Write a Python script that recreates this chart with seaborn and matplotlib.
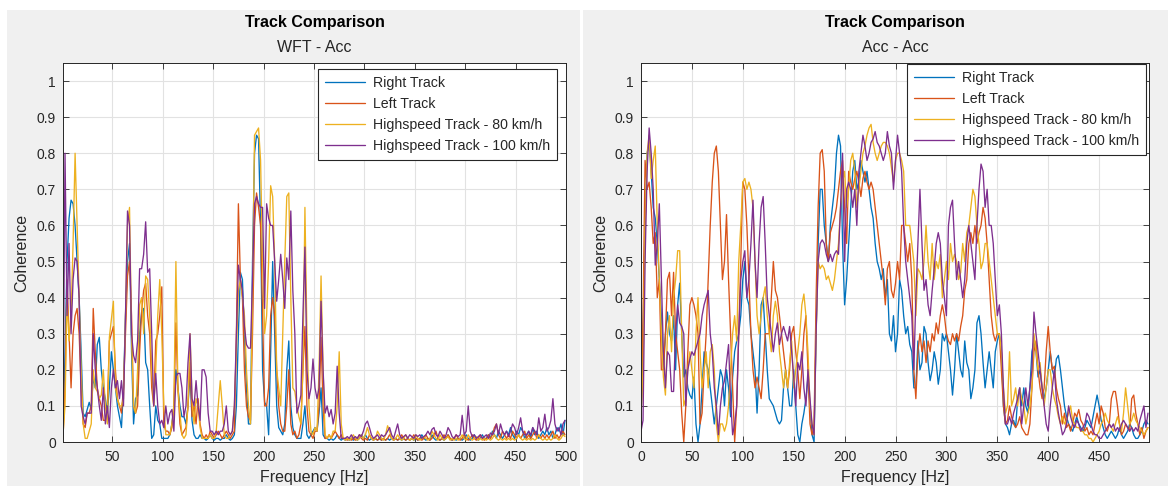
import numpy as np
import pandas as pd
import matplotlib
matplotlib.use("Agg")
import matplotlib.pyplot as plt
from matplotlib.patches import Rectangle
import seaborn as sns

sns.set_theme(style="whitegrid")
plt.rcParams["font.family"] = ["Liberation Sans", "DejaVu Sans"]

# ---------------------------------------------------------------- data
track_names = ["Right Track", "Left Track",
               "Highspeed Track - 80 km/h", "Highspeed Track - 100 km/h"]
track_colors = ["#0072BD", "#D95319", "#EDB120", "#7E2F8E"]

panel_titles = ["Track Comparison", "Track Comparison"]
panel_subtitles = ["WFT - Acc", "Acc - Acc"]

# frequency bins [Hz]
freq_wft = np.arange(1, 500, 2)
freq_acc = np.arange(0, 500, 2)

# ---- WFT - Acc coherence
wft_right = [
    0.02, 0.25, 0.5, 0.62, 0.67, 0.66, 0.6, 0.5, 0.4, 0.25,
    0.08, 0.07, 0.09, 0.11, 0.09, 0.18, 0.15, 0.27, 0.29, 0.2,
    0.15, 0.12, 0.08, 0.15, 0.25, 0.2, 0.15, 0.1, 0.07, 0.04,
    0.15, 0.35, 0.5, 0.55, 0.25, 0.05, 0.12, 0.13, 0.3, 0.36,
    0.37, 0.22, 0.2, 0.1, 0.01, 0.02, 0.1, 0.06, 0.05, 0.01,
    0.01, 0.01, 0.01, 0.02, 0.05, 0.1, 0.2, 0.15, 0.1, 0.07,
    0.07, 0.05, 0.1, 0.19, 0.06, 0.02, 0.01, 0.01, 0.02, 0.01,
    0.01, 0.005, 0.01, 0.02, 0.01, 0.005, 0.01, 0.01, 0.005, 0.01,
    0.01, 0.02, 0.01, 0.005, 0.01, 0.02, 0.1, 0.3, 0.47, 0.45,
    0.3, 0.15, 0.05, 0.05, 0.5, 0.8, 0.85, 0.84, 0.6, 0.2,
    0.11, 0.1, 0.02, 0.25, 0.5, 0.3, 0.1, 0.04, 0.03, 0.02,
    0.05, 0.2, 0.28, 0.1, 0.04, 0.02, 0.01, 0.01, 0.01, 0.05,
    0.1, 0.02, 0.01, 0.02, 0.03, 0.04, 0.03, 0.08, 0.15, 0.02,
    0.01, 0.01, 0.005, 0.01, 0.005, 0.01, 0.02, 0.01, 0.005, 0.01,
    0.005, 0.01, 0.005, 0.01, 0.005, 0.01, 0.005, 0.01, 0.02, 0.01,
    0.02, 0.01, 0.005, 0.01, 0.005, 0.01, 0.005, 0.01, 0.005, 0.01,
    0.005, 0.01, 0.005, 0.01, 0.005, 0.01, 0.005, 0.01, 0.005, 0.01,
    0.005, 0.01, 0.005, 0.01, 0.005, 0.01, 0.005, 0.01, 0.02, 0.01,
    0.005, 0.01, 0.005, 0.02, 0.01, 0.005, 0.01, 0.005, 0.01, 0.005,
    0.01, 0.02, 0.01, 0.005, 0.01, 0.005, 0.01, 0.01, 0.005, 0.01,
    0.02, 0.01, 0.005, 0.01, 0.02, 0.01, 0.005, 0.01, 0.02, 0.01,
    0.01, 0.02, 0.01, 0.03, 0.02, 0.01, 0.03, 0.02, 0.01, 0.02,
    0.03, 0.02, 0.04, 0.02, 0.01, 0.03, 0.02, 0.04, 0.03, 0.01,
    0.02, 0.03, 0.01, 0.04, 0.02, 0.03, 0.01, 0.02, 0.03, 0.02,
    0.04, 0.02, 0.03, 0.01, 0.02, 0.04, 0.03, 0.05, 0.02, 0.06,
]
wft_left = [
    0.01, 0.15, 0.45, 0.3, 0.15, 0.3, 0.35, 0.37, 0.3, 0.15,
    0.05, 0.04, 0.08, 0.08, 0.1, 0.37, 0.25, 0.15, 0.12, 0.1,
    0.06, 0.06, 0.1, 0.28, 0.3, 0.32, 0.2, 0.12, 0.1, 0.08,
    0.15, 0.3, 0.46, 0.5, 0.35, 0.1, 0.08, 0.1, 0.25, 0.36,
    0.42, 0.44, 0.35, 0.3, 0.15, 0.1, 0.28, 0.3, 0.35, 0.43,
    0.05, 0.03, 0.03, 0.02, 0.04, 0.1, 0.33, 0.15, 0.05, 0.02,
    0.03, 0.04, 0.1, 0.22, 0.07, 0.1, 0.05, 0.12, 0.05, 0.02,
    0.01, 0.02, 0.01, 0.03, 0.02, 0.01, 0.02, 0.03, 0.02, 0.01,
    0.02, 0.03, 0.02, 0.01, 0.02, 0.03, 0.3, 0.66, 0.45, 0.4,
    0.2, 0.1, 0.07, 0.06, 0.3, 0.6, 0.69, 0.65, 0.6, 0.35,
    0.1, 0.1, 0.15, 0.35, 0.4, 0.35, 0.2, 0.1, 0.05, 0.03,
    0.03, 0.1, 0.2, 0.05, 0.02, 0.03, 0.01, 0.02, 0.05, 0.2,
    0.32, 0.1, 0.03, 0.02, 0.01, 0.03, 0.03, 0.1, 0.29, 0.1,
    0.01, 0.01, 0.02, 0.01, 0.02, 0.03, 0.02, 0.01, 0.02, 0.01,
    0.01, 0.005, 0.01, 0.005, 0.01, 0.005, 0.01, 0.02, 0.01, 0.005,
    0.01, 0.005, 0.02, 0.01, 0.005, 0.01, 0.005, 0.01, 0.005, 0.01,
    0.005, 0.01, 0.02, 0.01, 0.005, 0.01, 0.005, 0.01, 0.02, 0.01,
    0.005, 0.01, 0.005, 0.01, 0.02, 0.01, 0.005, 0.01, 0.005, 0.01,
    0.02, 0.01, 0.005, 0.01, 0.02, 0.03, 0.01, 0.005, 0.01, 0.02,
    0.01, 0.02, 0.01, 0.005, 0.01, 0.02, 0.01, 0.005, 0.01, 0.02,
    0.01, 0.005, 0.01, 0.02, 0.01, 0.005, 0.01, 0.02, 0.01, 0.005,
    0.01, 0.02, 0.01, 0.02, 0.04, 0.05, 0.02, 0.01, 0.03, 0.02,
    0.01, 0.02, 0.01, 0.03, 0.02, 0.01, 0.02, 0.01, 0.02, 0.03,
    0.01, 0.02, 0.01, 0.02, 0.03, 0.01, 0.02, 0.01, 0.02, 0.01,
    0.02, 0.01, 0.02, 0.03, 0.01, 0.02, 0.01, 0.02, 0.03, 0.02,
]
wft_hs80 = [
    0.02, 0.1, 0.4, 0.28, 0.35, 0.55, 0.8, 0.6, 0.4, 0.2,
    0.05, 0.01, 0.01, 0.03, 0.05, 0.2, 0.15, 0.14, 0.12, 0.13,
    0.2, 0.1, 0.05, 0.29, 0.34, 0.39, 0.15, 0.12, 0.1, 0.1,
    0.12, 0.35, 0.6, 0.65, 0.3, 0.1, 0.08, 0.2, 0.38, 0.4,
    0.3, 0.46, 0.45, 0.35, 0.2, 0.1, 0.2, 0.35, 0.45, 0.3,
    0.1, 0.02, 0.02, 0.02, 0.05, 0.1, 0.5, 0.15, 0.08, 0.02,
    0.01, 0.02, 0.1, 0.3, 0.12, 0.05, 0.12, 0.1, 0.04, 0.01,
    0.01, 0.01, 0.01, 0.02, 0.01, 0.01, 0.03, 0.1, 0.17, 0.1,
    0.02, 0.01, 0.01, 0.02, 0.03, 0.1, 0.25, 0.42, 0.45, 0.4,
    0.35, 0.2, 0.1, 0.05, 0.4, 0.85, 0.86, 0.87, 0.78, 0.5,
    0.3, 0.35, 0.5, 0.71, 0.68, 0.5, 0.2, 0.15, 0.1, 0.3,
    0.5, 0.68, 0.69, 0.4, 0.15, 0.14, 0.1, 0.07, 0.05, 0.2,
    0.65, 0.3, 0.1, 0.03, 0.02, 0.04, 0.03, 0.2, 0.46, 0.2,
    0.02, 0.01, 0.02, 0.01, 0.03, 0.03, 0.1, 0.25, 0.05, 0.01,
    0.005, 0.01, 0.005, 0.01, 0.02, 0.01, 0.005, 0.01, 0.02, 0.01,
    0.02, 0.04, 0.02, 0.01, 0.005, 0.01, 0.03, 0.02, 0.01, 0.005,
    0.02, 0.045, 0.03, 0.01, 0.005, 0.01, 0.02, 0.01, 0.005, 0.01,
    0.02, 0.01, 0.005, 0.01, 0.005, 0.02, 0.01, 0.005, 0.01, 0.015,
    0.01, 0.005, 0.01, 0.03, 0.02, 0.01, 0.005, 0.02, 0.01, 0.005,
    0.01, 0.015, 0.005, 0.01, 0.005, 0.01, 0.005, 0.01, 0.02, 0.01,
    0.005, 0.02, 0.01, 0.005, 0.01, 0.015, 0.005, 0.01, 0.005, 0.01,
    0.005, 0.01, 0.005, 0.01, 0.02, 0.01, 0.005, 0.01, 0.005, 0.01,
    0.005, 0.01, 0.005, 0.01, 0.005, 0.01, 0.02, 0.01, 0.005, 0.01,
    0.005, 0.01, 0.005, 0.01, 0.005, 0.01, 0.02, 0.01, 0.005, 0.01,
    0.005, 0.01, 0.005, 0.01, 0.02, 0.01, 0.005, 0.01, 0.02, 0.015,
]
wft_hs100 = [
    0.02, 0.8, 0.35, 0.55, 0.3, 0.45, 0.51, 0.5, 0.4, 0.1,
    0.07, 0.05, 0.08, 0.08, 0.08, 0.3, 0.2, 0.15, 0.1, 0.06,
    0.15, 0.05, 0.1, 0.04, 0.15, 0.2, 0.15, 0.17, 0.12, 0.17,
    0.1, 0.35, 0.64, 0.6, 0.3, 0.24, 0.22, 0.28, 0.48, 0.48,
    0.52, 0.61, 0.47, 0.48, 0.3, 0.1, 0.19, 0.1, 0.05, 0.06,
    0.04, 0.1, 0.05, 0.08, 0.09, 0.03, 0.18, 0.19, 0.19, 0.15,
    0.07, 0.1, 0.22, 0.3, 0.12, 0.1, 0.17, 0.1, 0.06, 0.2,
    0.2, 0.18, 0.08, 0.03, 0.03, 0.02, 0.03, 0.02, 0.03, 0.03,
    0.05, 0.1, 0.03, 0.02, 0.03, 0.1, 0.3, 0.49, 0.45, 0.42,
    0.32, 0.27, 0.26, 0.26, 0.45, 0.66, 0.68, 0.66, 0.65, 0.65,
    0.37, 0.66, 0.62, 0.6, 0.6, 0.5, 0.39, 0.45, 0.52, 0.45,
    0.37, 0.51, 0.45, 0.64, 0.42, 0.3, 0.08, 0.1, 0.13, 0.35,
    0.54, 0.2, 0.12, 0.15, 0.23, 0.15, 0.12, 0.15, 0.39, 0.2,
    0.08, 0.1, 0.07, 0.09, 0.05, 0.08, 0.21, 0.08, 0.01, 0.01,
    0.01, 0.015, 0.01, 0.02, 0.01, 0.015, 0.01, 0.02, 0.015, 0.03,
    0.05, 0.058, 0.04, 0.02, 0.01, 0.015, 0.02, 0.01, 0.02, 0.015,
    0.02, 0.03, 0.04, 0.02, 0.01, 0.03, 0.05, 0.02, 0.01, 0.015,
    0.02, 0.01, 0.02, 0.015, 0.01, 0.02, 0.015, 0.02, 0.01, 0.015,
    0.02, 0.03, 0.02, 0.035, 0.04, 0.02, 0.015, 0.03, 0.02, 0.01,
    0.02, 0.04, 0.03, 0.015, 0.01, 0.02, 0.015, 0.02, 0.074, 0.02,
    0.03, 0.1, 0.03, 0.015, 0.02, 0.01, 0.015, 0.02, 0.01, 0.015,
    0.02, 0.01, 0.025, 0.02, 0.03, 0.05, 0.02, 0.05, 0.03, 0.02,
    0.03, 0.015, 0.03, 0.05, 0.04, 0.02, 0.04, 0.067, 0.03, 0.02,
    0.02, 0.03, 0.02, 0.04, 0.03, 0.02, 0.067, 0.03, 0.04, 0.077,
    0.03, 0.04, 0.06, 0.12, 0.05, 0.03, 0.04, 0.02, 0.05, 0.06,
]

# ---- Acc - Acc coherence
acc_right = [
    0.05, 0.3, 0.6, 0.8, 0.83, 0.75, 0.65, 0.62, 0.55, 0.45,
    0.35, 0.2, 0.3, 0.36, 0.3, 0.28, 0.35, 0.2, 0.38, 0.44,
    0.3, 0.18, 0.2, 0.15, 0.13, 0.12, 0.18, 0.05, 0.0, 0.05,
    0.15, 0.25, 0.22, 0.2, 0.15, 0.1, 0.05, 0.1, 0.15, 0.2,
    0.18, 0.1, 0.2, 0.15, 0.07, 0.18, 0.25, 0.28, 0.3, 0.35,
    0.45, 0.5, 0.4, 0.38, 0.3, 0.25, 0.2, 0.08, 0.2, 0.38,
    0.4, 0.3, 0.2, 0.12, 0.11, 0.1, 0.08, 0.06, 0.05, 0.06,
    0.15, 0.2, 0.15, 0.1, 0.1, 0.2, 0.1, 0.02, 0.0, 0.05,
    0.08, 0.12, 0.18, 0.1, 0.02, 0.0, 0.3, 0.55, 0.7, 0.7,
    0.6, 0.55, 0.5, 0.6, 0.65, 0.7, 0.8, 0.85, 0.82, 0.55,
    0.38, 0.45, 0.55, 0.65, 0.75, 0.78, 0.7, 0.72, 0.78, 0.75,
    0.72, 0.75, 0.7, 0.65, 0.62, 0.55, 0.5, 0.48, 0.45, 0.48,
    0.4, 0.45, 0.3, 0.28, 0.35, 0.25, 0.3, 0.45, 0.42, 0.35,
    0.3, 0.32, 0.27, 0.25, 0.15, 0.15, 0.28, 0.2, 0.22, 0.32,
    0.3, 0.22, 0.17, 0.2, 0.25, 0.22, 0.16, 0.2, 0.3, 0.28,
    0.3, 0.25, 0.2, 0.13, 0.2, 0.3, 0.25, 0.2, 0.18, 0.28,
    0.22, 0.2, 0.12, 0.15, 0.2, 0.33, 0.35, 0.3, 0.22, 0.15,
    0.2, 0.25, 0.2, 0.15, 0.25, 0.28, 0.3, 0.25, 0.1, 0.05,
    0.04, 0.02, 0.05, 0.06, 0.04, 0.12, 0.15, 0.1, 0.15, 0.1,
    0.08, 0.15, 0.25, 0.28, 0.25, 0.18, 0.2, 0.15, 0.12, 0.15,
    0.2, 0.25, 0.2, 0.18, 0.23, 0.24, 0.2, 0.15, 0.1, 0.07,
    0.05, 0.04, 0.03, 0.05, 0.07, 0.05, 0.04, 0.03, 0.04, 0.06,
    0.05, 0.04, 0.07, 0.1, 0.13, 0.1, 0.06, 0.04, 0.02, 0.01,
    0.02, 0.03, 0.02, 0.01, 0.02, 0.04, 0.02, 0.01, 0.02, 0.03,
    0.05, 0.04, 0.02, 0.01, 0.01, 0.02, 0.03, 0.05, 0.06, 0.05,
]
acc_left = [
    0.04, 0.35, 0.78, 0.7, 0.72, 0.65, 0.55, 0.58, 0.4, 0.45,
    0.2, 0.2, 0.3, 0.45, 0.47, 0.35, 0.47, 0.3, 0.25, 0.2,
    0.08, 0.0, 0.1, 0.25, 0.38, 0.4, 0.38, 0.35, 0.3, 0.05,
    0.08, 0.2, 0.3, 0.45, 0.6, 0.72, 0.8, 0.82, 0.75, 0.6,
    0.45, 0.5, 0.63, 0.45, 0.3, 0.15, 0.0, 0.1, 0.3, 0.5,
    0.72, 0.7, 0.6, 0.45, 0.3, 0.2, 0.15, 0.18, 0.15, 0.12,
    0.2, 0.3, 0.3, 0.3, 0.4, 0.5, 0.42, 0.4, 0.35, 0.3,
    0.25, 0.2, 0.15, 0.2, 0.3, 0.32, 0.25, 0.2, 0.12, 0.2,
    0.3, 0.35, 0.2, 0.05, 0.02, 0.05, 0.4, 0.65, 0.8, 0.81,
    0.75, 0.55, 0.5, 0.58, 0.6, 0.62, 0.65, 0.7, 0.75, 0.78,
    0.65, 0.55, 0.75, 0.72, 0.7, 0.73, 0.75, 0.72, 0.68, 0.73,
    0.75, 0.72, 0.7, 0.72, 0.7, 0.65, 0.6, 0.55, 0.5, 0.45,
    0.38, 0.48, 0.5, 0.42, 0.4, 0.44, 0.5, 0.45, 0.6, 0.6,
    0.55, 0.5, 0.55, 0.45, 0.2, 0.12, 0.25, 0.3, 0.25, 0.28,
    0.22, 0.28, 0.25, 0.3, 0.28, 0.33, 0.3, 0.35, 0.38, 0.35,
    0.3, 0.28, 0.27, 0.3, 0.28, 0.3, 0.28, 0.32, 0.35, 0.42,
    0.45, 0.55, 0.58, 0.55, 0.6, 0.55, 0.58, 0.6, 0.65, 0.62,
    0.55, 0.45, 0.35, 0.3, 0.28, 0.3, 0.3, 0.2, 0.1, 0.05,
    0.06, 0.1, 0.07, 0.05, 0.04, 0.05, 0.07, 0.04, 0.03, 0.02,
    0.02, 0.05, 0.15, 0.25, 0.28, 0.2, 0.15, 0.12, 0.15, 0.25,
    0.32, 0.25, 0.2, 0.21, 0.15, 0.12, 0.1, 0.05, 0.08, 0.04,
    0.05, 0.03, 0.05, 0.08, 0.07, 0.09, 0.06, 0.05, 0.03, 0.04,
    0.02, 0.03, 0.02, 0.05, 0.08, 0.05, 0.1, 0.08, 0.04, 0.03,
    0.05, 0.12, 0.14, 0.14, 0.1, 0.05, 0.02, 0.03, 0.05, 0.04,
    0.03, 0.12, 0.13, 0.08, 0.05, 0.02, 0.04, 0.01, 0.03, 0.04,
]
acc_hs80 = [
    0.07, 0.2, 0.6, 0.8, 0.85, 0.73, 0.78, 0.82, 0.6, 0.45,
    0.3, 0.18, 0.13, 0.3, 0.35, 0.25, 0.4, 0.45, 0.53, 0.53,
    0.3, 0.1, 0.12, 0.2, 0.25, 0.2, 0.15, 0.3, 0.4, 0.25,
    0.15, 0.2, 0.25, 0.15, 0.25, 0.27, 0.2, 0.05, 0.0, 0.05,
    0.05, 0.03, 0.05, 0.1, 0.2, 0.3, 0.35, 0.28, 0.5, 0.6,
    0.72, 0.73, 0.7, 0.72, 0.7, 0.65, 0.5, 0.35, 0.3, 0.35,
    0.4, 0.43, 0.35, 0.3, 0.25, 0.35, 0.39, 0.35, 0.25, 0.2,
    0.15, 0.2, 0.15, 0.22, 0.28, 0.15, 0.2, 0.25, 0.3, 0.38,
    0.41, 0.35, 0.25, 0.1, 0.05, 0.02, 0.3, 0.5, 0.48, 0.49,
    0.48, 0.45, 0.46, 0.44, 0.42, 0.45, 0.5, 0.55, 0.65, 0.72,
    0.75, 0.65, 0.7, 0.78, 0.8, 0.75, 0.65, 0.7, 0.75, 0.8,
    0.82, 0.85, 0.87, 0.88, 0.83, 0.8, 0.78, 0.8, 0.82, 0.83,
    0.83, 0.82, 0.8, 0.76, 0.72, 0.78, 0.8, 0.8, 0.78, 0.75,
    0.6, 0.6, 0.6, 0.55, 0.5, 0.35, 0.48, 0.47, 0.45, 0.5,
    0.6, 0.5, 0.45, 0.55, 0.45, 0.5, 0.48, 0.52, 0.4, 0.45,
    0.5, 0.45, 0.55, 0.5, 0.52, 0.5, 0.45, 0.47, 0.55, 0.5,
    0.58, 0.6, 0.65, 0.7, 0.68, 0.6, 0.55, 0.48, 0.5, 0.55,
    0.55, 0.5, 0.45, 0.4, 0.35, 0.3, 0.3, 0.25, 0.15, 0.08,
    0.1, 0.25, 0.1, 0.12, 0.15, 0.1, 0.15, 0.12, 0.1, 0.05,
    0.08, 0.1, 0.15, 0.3, 0.25, 0.2, 0.22, 0.15, 0.1, 0.15,
    0.2, 0.2, 0.15, 0.12, 0.1, 0.07, 0.05, 0.07, 0.05, 0.06,
    0.08, 0.1, 0.06, 0.05, 0.04, 0.04, 0.03, 0.03, 0.02, 0.02,
    0.01, 0.01, 0.0, 0.01, 0.02, 0.03, 0.05, 0.06, 0.08, 0.06,
    0.05, 0.04, 0.03, 0.05, 0.07, 0.05, 0.03, 0.08, 0.15, 0.1,
    0.05, 0.06, 0.08, 0.06, 0.05, 0.04, 0.03, 0.02, 0.03, 0.04,
]
acc_hs100 = [
    0.03, 0.06, 0.5, 0.75, 0.87, 0.8, 0.7, 0.49, 0.55, 0.66,
    0.45, 0.25, 0.15, 0.25, 0.24, 0.14, 0.14, 0.3, 0.38, 0.33,
    0.32, 0.3, 0.1, 0.2, 0.23, 0.25, 0.24, 0.26, 0.28, 0.3,
    0.35, 0.38, 0.4, 0.42, 0.3, 0.25, 0.15, 0.1, 0.02, 0.1,
    0.15, 0.17, 0.22, 0.27, 0.12, 0.02, 0.05, 0.1, 0.3, 0.45,
    0.5, 0.53, 0.4, 0.45, 0.55, 0.67, 0.5, 0.4, 0.55, 0.65,
    0.68, 0.55, 0.4, 0.35, 0.3, 0.25, 0.3, 0.33, 0.27, 0.3,
    0.32, 0.3, 0.28, 0.32, 0.25, 0.18, 0.1, 0.22, 0.2, 0.25,
    0.15, 0.1, 0.2, 0.12, 0.05, 0.02, 0.3, 0.5, 0.55, 0.56,
    0.55, 0.52, 0.5, 0.52, 0.5, 0.52, 0.53, 0.52, 0.65, 0.8,
    0.5, 0.7, 0.72, 0.7, 0.65, 0.7, 0.6, 0.75, 0.8, 0.85,
    0.82, 0.78, 0.8, 0.83, 0.84, 0.86, 0.83, 0.82, 0.8, 0.78,
    0.8, 0.86, 0.82, 0.8, 0.7, 0.78, 0.85, 0.8, 0.75, 0.6,
    0.5, 0.45, 0.4, 0.35, 0.2, 0.4, 0.55, 0.7, 0.55, 0.42,
    0.45, 0.38, 0.35, 0.42, 0.48, 0.55, 0.58, 0.55, 0.45, 0.4,
    0.35, 0.6, 0.65, 0.67, 0.55, 0.45, 0.5, 0.45, 0.4, 0.45,
    0.55, 0.6, 0.55, 0.5, 0.45, 0.6, 0.7, 0.77, 0.75, 0.65,
    0.7, 0.6, 0.6, 0.55, 0.45, 0.35, 0.38, 0.3, 0.15, 0.05,
    0.05, 0.07, 0.05, 0.08, 0.1, 0.12, 0.15, 0.05, 0.1, 0.15,
    0.1, 0.15, 0.2, 0.36, 0.3, 0.25, 0.2, 0.15, 0.1, 0.05,
    0.03, 0.1, 0.15, 0.2, 0.12, 0.08, 0.05, 0.02, 0.03, 0.05,
    0.1, 0.07, 0.05, 0.04, 0.06, 0.05, 0.03, 0.04, 0.05, 0.08,
    0.07, 0.05, 0.03, 0.02, 0.02, 0.01, 0.01, 0.02, 0.03, 0.04,
    0.05, 0.04, 0.05, 0.03, 0.04, 0.03, 0.05, 0.06, 0.05, 0.04,
    0.03, 0.04, 0.03, 0.04, 0.03, 0.06, 0.08, 0.1, 0.04, 0.08,
]

wft_ticks = [50, 100, 150, 200, 250, 300, 350, 400, 450, 500]
acc_ticks = [0, 50, 100, 150, 200, 250, 300, 350, 400, 450]
coh_ticks = [0, 0.1, 0.2, 0.3, 0.4, 0.5, 0.6, 0.7, 0.8, 0.9, 1]
coh_tick_labels = ["0", "0.1", "0.2", "0.3", "0.4", "0.5", "0.6",
                   "0.7", "0.8", "0.9", "1"]


def long_frame(freq, series):
    parts = [pd.DataFrame({"Frequency": freq, "Coherence": vals, "Track": name})
             for name, vals in zip(track_names, series)]
    return pd.concat(parts, ignore_index=True)


wft_df = long_frame(freq_wft, [wft_right, wft_left, wft_hs80, wft_hs100])
acc_df = long_frame(freq_acc, [acc_right, acc_left, acc_hs80, acc_hs100])

# ---------------------------------------------------------------- figure
W, H = 1168, 486
fig = plt.figure(figsize=(W / 100, H / 100), dpi=100)
fig.patch.set_facecolor("white")
panel_bg = "#f0f0f0"
fig.patches.append(Rectangle((7 / W, 0), (580 - 7) / W, 1 - 10 / H,
                             transform=fig.transFigure, facecolor=panel_bg,
                             edgecolor="none", zorder=-10))
fig.patches.append(Rectangle((583 / W, 0), (W - 583) / W, 1 - 10 / H,
                             transform=fig.transFigure, facecolor=panel_bg,
                             edgecolor="none", zorder=-10))


def px_axes(x0, x1, y_top, y_bot):
    return [x0 / W, 1 - y_bot / H, (x1 - x0) / W, (y_bot - y_top) / H]


panels = [
    dict(df=wft_df, rect=px_axes(63, 566, 63, 442), xlim=(1, 500),
         xticks=wft_ticks, legend_anchor=((557 - 63) / 503, (442 - 69) / 379)),
    dict(df=acc_df, rect=px_axes(641, 1149, 63, 442), xlim=(0, 499),
         xticks=acc_ticks, legend_anchor=((1146 - 641) / 508, (442 - 64) / 379)),
]

text_col = "#262626"
for i, p in enumerate(panels):
    ax = fig.add_axes(p["rect"])
    sns.lineplot(data=p["df"], x="Frequency", y="Coherence", hue="Track",
                 hue_order=track_names, palette=track_colors, estimator=None,
                 linewidth=0.95, ax=ax)
    ax.set_facecolor("white")
    ax.set_xlim(*p["xlim"])
    ax.set_ylim(0, 1.05)
    ax.set_xticks(p["xticks"])
    ax.set_xticklabels([str(t) for t in p["xticks"]])
    ax.set_yticks(coh_ticks)
    ax.set_yticklabels(coh_tick_labels)
    ax.grid(True, color="#e2e2e2", linewidth=0.8)
    for s in ax.spines.values():
        s.set_visible(True)
        s.set_color(text_col)
        s.set_linewidth(0.7)
    ax.tick_params(axis="both", which="major", direction="in", length=4,
                   width=0.6, color=text_col, labelcolor=text_col,
                   labelsize=10, bottom=True, left=True, top=True, right=True)
    ax.tick_params(axis="x", pad=6)
    ax.tick_params(axis="y", pad=5)

    ax.set_xlabel("Frequency [Hz]", fontsize=11.5, color=text_col)
    ax.set_ylabel("Coherence", fontsize=11.5, color=text_col)
    ax.xaxis.set_label_coords(0.5, -(470 - 442) / 379)
    ax.yaxis.set_label_coords(-(63 - 29) / 503 if i == 0 else -(641 - 608) / 508, 0.5)

    handles, labels = ax.get_legend_handles_labels()
    leg = ax.legend(handles, labels, loc="upper right",
                    bbox_to_anchor=p["legend_anchor"], borderaxespad=0,
                    fontsize=10.2, frameon=True, fancybox=False, framealpha=1,
                    edgecolor=text_col, handlelength=2.8, handletextpad=0.55,
                    labelspacing=0.5, borderpad=0.5)
    leg.get_frame().set_linewidth(0.8)
    for t in leg.get_texts():
        t.set_color(text_col)

    cx = (p["rect"][0] + p["rect"][2] / 2)
    fig.text(cx, 1 - 22 / H, panel_titles[i], ha="center", va="center",
             fontsize=11.5, fontweight="bold", color="black")
    fig.text(cx, 1 - 47 / H, panel_subtitles[i], ha="center", va="center",
             fontsize=11.5, color=text_col)

fig.savefig("out.png", dpi=100, facecolor=fig.get_facecolor())
